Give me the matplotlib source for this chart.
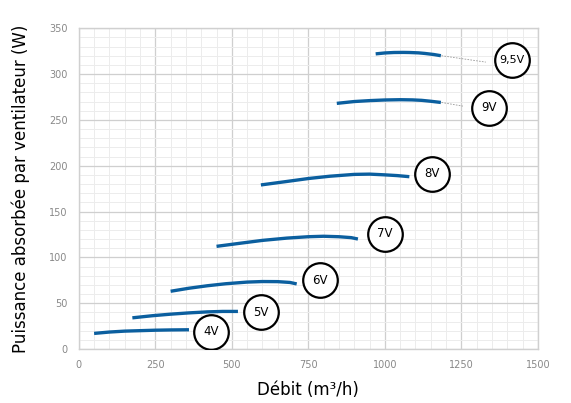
import matplotlib.pyplot as plt
from matplotlib.ticker import MultipleLocator

# courbes puissance / débit par tension
labels = ['4V', '5V', '6V', '7V', '8V', '9V', '9,5V']
debit = [
    [50, 100, 150, 200, 250, 300, 360],
    [175, 240, 300, 360, 420, 470, 520],
    [300, 360, 420, 480, 550, 600, 650, 690, 712],
    [450, 530, 600, 680, 750, 800, 850, 890, 912],
    [595, 680, 750, 820, 900, 950, 1000, 1040, 1080],
    [843, 900, 950, 1000, 1050, 1090, 1120, 1150, 1183],
    [970, 1000, 1030, 1060, 1080, 1110, 1130, 1160, 1183],
]
puissance = [
    [17, 18.5, 19.5, 20, 20.5, 20.8, 21],
    [34, 36.3, 38, 39.4, 40.5, 41, 41],
    [63, 66.3, 69, 71.2, 73, 73.6, 73.5, 72.6, 71],
    [112, 115.5, 118.5, 121, 122.5, 123, 122.5, 121.5, 120],
    [179, 182.8, 186, 188.5, 190.5, 190.8, 190, 189.2, 188],
    [268, 270, 271, 271.7, 272, 271.8, 271.3, 270.3, 269],
    [322, 323, 323.5, 323.6, 323.5, 323.1, 322.5, 321.3, 320],
]
label_x = [431, 595, 787, 1000, 1153, 1340, 1415]
label_y = [19, 40, 75, 126, 191, 263, 315]

BLUE = '#0b5f9f'

fig = plt.figure(figsize=(5.71, 4.03), dpi=100)
ax = fig.add_axes([0.138, 0.134, 0.804, 0.796])

for xs, ys in zip(debit, puissance):
    ax.plot(xs, ys, color=BLUE, linewidth=2.4, solid_capstyle='butt', zorder=3)

# petits traits pointillés vers les étiquettes 9V et 9,5V
ax.plot([1185, 1330], [320, 313], color='#999999', linestyle=(0, (2, 1.5)), linewidth=0.6, zorder=2)
ax.plot([1185, 1255], [269, 265], color='#999999', linestyle=(0, (2, 1.5)), linewidth=0.6, zorder=2)

ax.scatter(label_x, label_y, s=620, facecolor='white', edgecolor='black', linewidth=1.6, zorder=4)
for lx, ly, lab in zip(label_x, label_y, labels):
    ax.text(lx, ly, lab, ha='center', va='center', fontsize=8.5 if lab != '9,5V' else 8, zorder=5)

ax.set_xlim(0, 1500)
ax.set_ylim(0, 350)
ax.xaxis.set_major_locator(MultipleLocator(250))
ax.xaxis.set_minor_locator(MultipleLocator(50))
ax.yaxis.set_major_locator(MultipleLocator(50))
ax.yaxis.set_minor_locator(MultipleLocator(10))
ax.grid(which='major', color='#cfcfcf', linewidth=0.9)
ax.grid(which='minor', color='#ececec', linewidth=0.7)
ax.set_axisbelow(True)
ax.tick_params(which='both', length=0)
ax.tick_params(axis='both', labelsize=7, labelcolor='#888888', pad=8)
for sp in ax.spines.values():
    sp.set_color('#d0d0d0')
    sp.set_linewidth(1.0)

ax.set_xlabel('Débit (m³/h)', fontsize=12, labelpad=8)
ax.set_ylabel('Puissance absorbée par ventilateur (W)', fontsize=12, labelpad=14)

fig.savefig('out.png', dpi=100)
